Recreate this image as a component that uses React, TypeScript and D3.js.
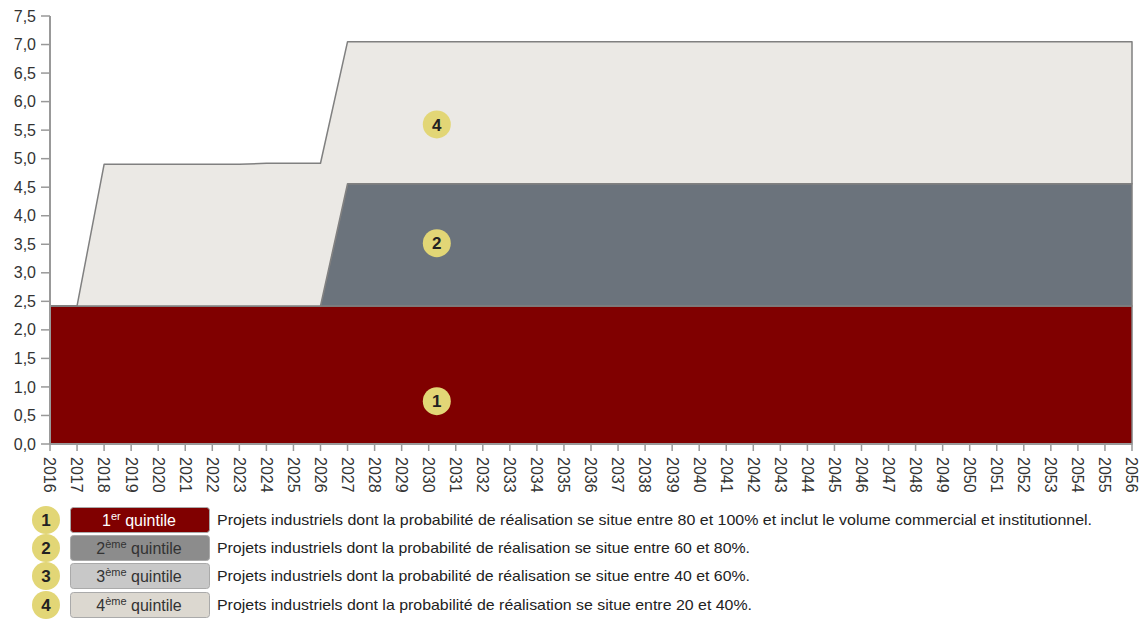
import React from "react";
import * as d3 from "d3";

const years: number[] = d3.range(2016, 2057);
// values of each stacked band
const q1Values: number[] = years.map(() => 2.42);
const q2Values: number[] = [0, 0, 0, 0, 0, 0, 0, 0, 0, 0, 0, ...Array(30).fill(2.14)];
const q3Values: number[] = years.map(() => 0);
const q4Values: number[] = [0, 0, 2.48, 2.48, 2.48, 2.48, 2.48, 2.48, 2.5, 2.5, 2.5, ...Array(30).fill(2.49)];

const yTicks: number[] = d3.range(0, 7.51, 0.5);
const seriesKeys = ["q1", "q2", "q3", "q4"];
const seriesColors = ["#800000", "#6b737c", "#c8c8c8", "#ebe9e5"];
const markerLabels = ["1", "2", "4"];
const markerValues = [0.75, 3.52, 5.6];
const markerYear = 2030.3;

const legendNums = ["1", "2", "3", "4"];
const legendOrd = ["1", "2", "3", "4"];
const legendSup = ["er", "ème", "ème", "ème"];
const legendFill = ["#800000", "#8c8c8c", "#c8c8c8", "#dcd8d0"];
const legendText = ["#ffffff", "#333333", "#333333", "#333333"];
const legendDesc = [
  "Projets industriels dont la probabilité de réalisation se situe entre 80 et 100% et inclut le volume commercial et institutionnel.",
  "Projets industriels dont la probabilité de réalisation se situe entre 60 et 80%.",
  "Projets industriels dont la probabilité de réalisation se situe entre 40 et 60%.",
  "Projets industriels dont la probabilité de réalisation se situe entre 20 et 40%.",
];

export default function App() {
  const W = 1141, H = 620;
  const x = d3.scaleLinear().domain([2016, 2056]).range([50, 1132]);
  const y = d3.scaleLinear().domain([0, 7.5]).range([444, 16]);
  const table = years.map((yr, i) => ({ year: yr, q1: q1Values[i], q2: q2Values[i], q3: q3Values[i], q4: q4Values[i] }));
  const stacked = d3.stack<any>().keys(seriesKeys)(table);
  const area = d3.area<any>().x((d) => x(d.data.year)).y0((d) => y(d[0])).y1((d) => y(d[1]));
  const fmt = (v: number) => d3.format(".1f")(v).replace(".", ",");
  const font = "Arial, 'Liberation Sans', sans-serif";
  const legendY = [520, 548, 576, 605];
  const descWidth = [875, 533, 533, 535];
  return (
    <svg width={W} height={H} style={{ position: "absolute", left: 0, top: 0, background: "#fff" }} fontFamily={font}>
      {stacked.map((s, i) =>
        i === 2 ? null : (
          <path key={i} d={area(s) || ""} fill={seriesColors[i]} stroke="#808080" strokeWidth={1.5} strokeLinejoin="round" />
        )
      )}
      {/* y axis */}
      <line x1={50} x2={50} y1={16} y2={444} stroke="#999" strokeWidth={2} />
      {yTicks.map((t) => (
        <g key={t}>
          <line x1={41} x2={50} y1={y(t)} y2={y(t)} stroke="#999" strokeWidth={1.5} />
          <text x={36} y={y(t)} dy="0.35em" textAnchor="end" fontSize={16} fill="#333">{fmt(t)}</text>
        </g>
      ))}
      {/* x axis */}
      <line x1={50} x2={1132} y1={444} y2={444} stroke="#999" strokeWidth={2} />
      {years.map((yr) => (
        <g key={yr}>
          <line x1={x(yr)} x2={x(yr)} y1={444} y2={451} stroke="#999" strokeWidth={1.5} />
          <text transform={`translate(${x(yr)},457) rotate(90)`} dy="0.35em" fontSize={16} fill="#333">{yr}</text>
        </g>
      ))}
      {markerLabels.map((m, i) => (
        <g key={m}>
          <circle cx={x(markerYear)} cy={y(markerValues[i])} r={14} fill="#e2d676" />
          <text x={x(markerYear)} y={y(markerValues[i])} dy="0.36em" textAnchor="middle" fontWeight="bold" fontSize={17} fill="#222">{m}</text>
        </g>
      ))}
      {legendNums.map((n, i) => (
        <g key={n}>
          <circle cx={46} cy={legendY[i]} r={14} fill="#e2d676" />
          <text x={46} y={legendY[i]} dy="0.36em" textAnchor="middle" fontWeight="bold" fontSize={17} fill="#222">{n}</text>
          <rect x={70.5} y={legendY[i] - 12.5} width={139} height={25} rx={3} fill={legendFill[i]} stroke="#aaa" strokeWidth={1} />
          <text x={139} y={legendY[i] + 6} textAnchor="middle" fontSize={16} fill={legendText[i]}>
            {legendOrd[i]}
            <tspan fontSize={11} dy={-6}>{legendSup[i]}</tspan>
            <tspan fontSize={16} dy={6}> quintile</tspan>
          </text>
          <text x={217} y={legendY[i]} dy="0.36em" fontSize={15} fill="#222" textLength={descWidth[i]} lengthAdjust="spacingAndGlyphs">{legendDesc[i]}</text>
        </g>
      ))}
    </svg>
  );
}
